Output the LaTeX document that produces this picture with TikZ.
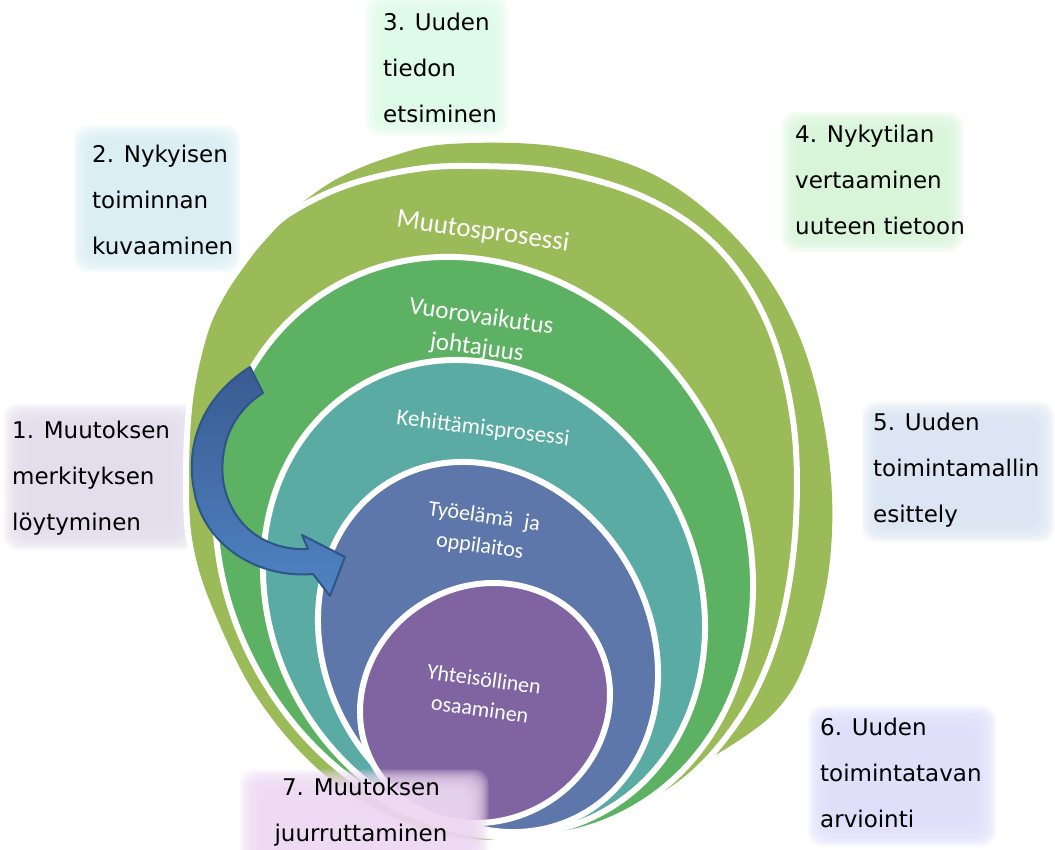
\documentclass[tikz,border=0pt]{standalone}
\usepackage{fontspec}
\setmainfont{DejaVu Sans}
\newfontfamily\ringfont{Carlito}

\definecolor{ringolive}{HTML}{9BBB59}
\definecolor{ringgreen}{HTML}{5CB163}
\definecolor{ringteal}{HTML}{5AABA3}
\definecolor{ringblue}{HTML}{5E77AA}
\definecolor{ringpurple}{HTML}{8064A2}
\definecolor{arrowtop}{HTML}{395B91}
\definecolor{arrowbot}{HTML}{4F83C3}
\definecolor{arrowedge}{HTML}{2F5587}
\definecolor{glowA}{HTML}{E2DDEB}
\definecolor{glowB}{HTML}{D8EDF3}
\definecolor{glowC}{HTML}{DCFAE8}
\definecolor{glowD}{HTML}{D6F4D7}
\definecolor{glowE}{HTML}{D9E4F2}
\definecolor{glowF}{HTML}{DEDEFA}
\definecolor{glowG}{HTML}{EDD9F2}

% soft-edged colour patch behind a label: colour, x1, y1, x2, y2
\newcommand\softpatch[5]{%
  \foreach \k in {0,...,15}{%
    \pgfmathsetmacro\grow{(15-\k)*1.5-4}%
    \fill[#1, fill opacity=0.18, rounded corners=14pt]
      ({#2-\grow},{#3-\grow}) rectangle ({#4+\grow},{#5+\grow});
  }}

\tikzset{
  steplabel/.style={font=\fontsize{23}{46}\selectfont, align=left,
    inner sep=0pt, anchor=west, text=black},
  ringlabel/.style={text=white, align=center, inner sep=0pt,
    font=\ringfont\fontsize{22}{30}\selectfont},
  ring/.style={draw=white, line width=6pt},
}

\begin{document}
\begin{tikzpicture}[x=1pt,y=1pt]
\useasboundingbox (0,0) rectangle (1055,850);

% soft backgrounds of the step labels
\softpatch{glowA}{22}{318}{178}{428}
\softpatch{glowB}{92}{596}{222}{706}
\softpatch{glowC}{384}{732}{490}{836}
\softpatch{glowD}{800}{616}{945}{720}
\softpatch{glowE}{880}{326}{1036}{430}
\softpatch{glowF}{826}{22}{978}{126}

% outer crescent
\fill[ringolive] plot[smooth, tension=0.6] coordinates {
  (290,638) (335,670) (390,693) (450,706) (560,703) (660,672) (745,602)
  (800,512) (828,400) (830,290) (806,190) (772,135) (714,94)}
  -- (600,250) -- (400,550) -- cycle;

% nested rings
\filldraw[fill=ringolive, ring] plot[smooth cycle, tension=0.6] coordinates {
  (186,370) (190,450) (204,515) (220,552) (240,583) (263,612) (290,637)
  (345,664) (410,680) (470,684) (560,678) (650,650) (720,600) (768,525)
  (793,430) (796,330) (784,240) (760,168) (724,110) (680,66) (620,32)
  (545,12) (470,8) (400,26) (320,75) (255,150) (210,240) (190,305)};
\filldraw[fill=ringgreen, ring, rotate around={-60:(484,302.5)}]
  (484,302.5) ellipse [x radius=300.7, y radius=257.6];
\filldraw[fill=ringteal, ring, rotate around={-60:(484,252.5)}]
  (484,252.5) ellipse [x radius=245.3, y radius=212.3];
\filldraw[fill=ringblue, ring, rotate around={-60:(488,203)}]
  (488,203) ellipse [x radius=192.1, y radius=162];
\filldraw[fill=ringpurple, ring, rotate around={-60:(485,147)}]
  (485,147) ellipse [x radius=117.4, y radius=127.4];

% ring captions
\node[ringlabel, font=\ringfont\fontsize{27}{32}\selectfont, rotate=-8] (capA) at (483,618) {Muutosprosessi};
\node[ringlabel, font=\ringfont\fontsize{25}{31}\selectfont, rotate=-8] (capB) at (479,517) {Vuorovaikutus\\johtajuus};
\node[ringlabel, font=\ringfont\fontsize{23}{28}\selectfont, rotate=-7] (capC) at (483,421) {Kehittämisprosessi};
\node[ringlabel, rotate=-8] (capD) at (482,318) {Työelämä\enspace ja\\oppilaitos};
\node[ringlabel, rotate=-8] (capE) at (482,156) {Yhteisöllinen\\osaaminen};

% curved block arrow
\shadedraw[top color=arrowtop, bottom color=arrowbot, draw=arrowedge,
  line width=2pt, line join=round]
  (250,483) .. controls (198,450) and (186,400) .. (194,360)
  .. controls (203,305) and (258,271) .. (313,276)
  -- (330,254) -- (345,293) -- (302,315) -- (308,301)
  .. controls (265,299) and (230,325) .. (223,370)
  .. controls (219,410) and (236,440) .. (263,457) -- cycle;

% step labels
\node[steplabel] (lab1) at (12,372) {1. Muutoksen\\merkityksen\\löytyminen};
\node[steplabel] (lab2) at (92,650) {2. Nykyisen\\toiminnan\\kuvaaminen};
\node[steplabel] (lab3) at (383,782) {3. Uuden\\tiedon\\etsiminen};
\node[steplabel] (lab4) at (795,670) {4. Nykytilan\\vertaaminen\\uuteen tietoon};
\node[steplabel] (lab5) at (873,380) {5. Uuden\\toimintamallin\\esittely};
\node[steplabel] (lab6) at (820,77) {6. Uuden\\toimintatavan\\arviointi};

% last label sits over the bottom of the rings
\softpatch{glowG}{258}{-10}{470}{62}
\node[steplabel, align=center, anchor=center] (lab7) at (361,38) {7. Muutoksen\\juurruttaminen};
\end{tikzpicture}
\end{document}
